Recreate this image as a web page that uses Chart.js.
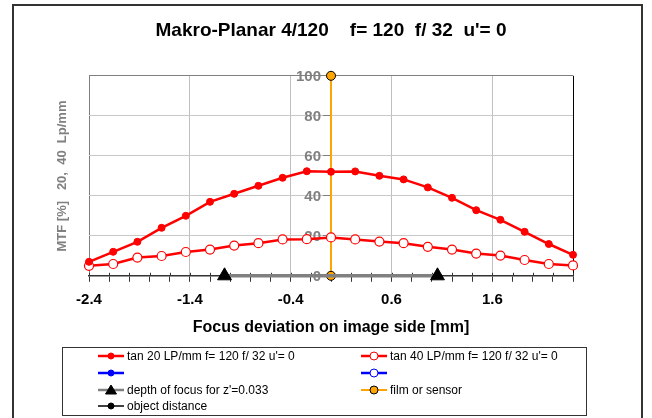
<!DOCTYPE html>
<html>
<head>
<meta charset="utf-8">
<script src="https://cdn.jsdelivr.net/npm/chart.js@4/dist/chart.umd.min.js"></script>
<style>
html,body{margin:0;padding:0;background:#fff;}
#wrap{position:relative;width:652px;height:418px;}
</style>
</head>
<body>
<div id="wrap"><canvas id="c" width="652" height="418"></canvas></div>
<script>
// ---- data ----
const chartTitle = "Makro-Planar 4/120    f= 120  f/ 32  u'= 0";
const xTitle = "Focus deviation on image side [mm]";
const yTitle = "MTF [%]   20,  40  Lp/mm";
const focusX = [-2.4, -2.16, -1.92, -1.68, -1.44, -1.2, -0.96, -0.72, -0.48, -0.24, 0, 0.24, 0.48, 0.72, 0.96, 1.2, 1.44, 1.68, 1.92, 2.16, 2.4];
const tan20 = [7, 12, 17, 24, 30, 37, 41, 45, 49, 52.3, 52, 52.2, 50, 48.2, 44.2, 39, 32.8, 28, 22, 15.9, 10.5];
const tan40 = [5, 5.9, 9.1, 9.9, 11.9, 13.1, 15.1, 16.3, 18.2, 18.3, 19.2, 18.2, 17.1, 16.3, 14.5, 13.1, 11.1, 10.1, 7.9, 5.9, 5.2];
const depthX = [-1.056, 1.056];
const depthY = [0, 0];
const filmX = [0, 0];
const filmY = [0, 100];
const xTickValues = [-2.4,-2.2,-2.0,-1.8,-1.6,-1.4,-1.2,-1.0,-0.8,-0.6,-0.4,-0.2,0,0.2,0.4,0.6,0.8,1.0,1.2,1.4,1.6,1.8,2.0,2.2,2.4];
const xTickLabels = ["-2.4","","","","","-1.4","","","","","-0.4","","","","","0.6","","","","","1.6","","","",""];
const yTickValues = [0, 20, 40, 60, 80, 100];
const yTickLabels = ["0", "20", "40", "60", "80", "100"];
const legendLabels = ["tan 20 LP/mm f= 120 f/ 32 u'= 0", "tan 40 LP/mm f= 120 f/ 32 u'= 0", "", "", "depth of focus for z'=0.033", "film or sensor", "object distance"];

const pts = (xs, ys) => xs.map((x, i) => ({x: x, y: ys[i]}));
const FONT = "'Liberation Sans', Arial, sans-serif";

const datasets = [
  {label: legendLabels[0], data: pts(focusX, tan20), borderColor: '#ff0000', backgroundColor: '#ff0000', borderWidth: 2.5, pointRadius: 3.5, pointBorderWidth: 1, pointBorderColor: '#ff0000', pointBackgroundColor: '#ff0000', pointStyle: 'circle'},
  {label: legendLabels[1], data: pts(focusX, tan40), borderColor: '#ff0000', backgroundColor: '#ffffff', borderWidth: 2.5, pointRadius: 4.5, pointBorderWidth: 1.2, pointBorderColor: '#ff0000', pointBackgroundColor: '#ffffff', pointStyle: 'circle'},
  {label: legendLabels[2], data: [], borderColor: '#0000ff', borderWidth: 2.5, pointRadius: 3, pointBackgroundColor: '#0000ff', pointBorderColor: '#0000ff', pointStyle: 'circle'},
  {label: legendLabels[3], data: [], borderColor: '#0000ff', borderWidth: 2.5, pointRadius: 3.5, pointBackgroundColor: '#ffffff', pointBorderColor: '#0000ff', pointStyle: 'circle'},
  {label: legendLabels[4], data: pts(depthX, depthY), borderColor: '#808080', borderWidth: 3.5, pointRadius: 8, pointStyle: 'triangle', pointBackgroundColor: '#000000', pointBorderColor: '#000000', pointBorderWidth: 1},
  {label: legendLabels[5], data: pts(filmX, filmY), borderColor: '#ffa500', borderWidth: 2, pointRadius: 4.5, pointStyle: 'circle', pointBackgroundColor: '#ffa500', pointBorderColor: '#000000', pointBorderWidth: 1},
  {label: legendLabels[6], data: [], borderColor: '#000000', borderWidth: 1.5, pointRadius: 3, pointStyle: 'circle', pointBackgroundColor: '#000000', pointBorderColor: '#000000'}
];
datasets.forEach(d => { d.clip = false; d.tension = 0; d.showLine = true; d.fill = false; });

const isClose = (a, b) => Math.abs(a - b) < 1e-6;
const majorX = [-1.4, -0.4, 0.6, 1.6];

const framePlugin = {
  id: 'frame',
  beforeDraw(chart) {
    const ctx = chart.ctx;
    ctx.save();
    ctx.fillStyle = '#ffffff';
    ctx.fillRect(0, 0, chart.width, chart.height);
    ctx.strokeStyle = '#333333';
    ctx.lineWidth = 2;
    ctx.strokeRect(13, 5, 629, 430);
    ctx.restore();
  },
  beforeDatasetsDraw(chart) {
    const ctx = chart.ctx, xs = chart.scales.x, ys = chart.scales.y;
    const y0 = ys.getPixelForValue(0);
    ctx.save();
    // minor tick marks crossing above the x axis
    ctx.strokeStyle = '#333333';
    ctx.lineWidth = 1;
    xTickValues.forEach(v => {
      const px = Math.round(xs.getPixelForValue(v)) + 0.5;
      ctx.beginPath(); ctx.moveTo(px, y0 - 3); ctx.lineTo(px, y0); ctx.stroke();
    });
    // y tick labels left of the centered axis
    const ax = xs.getPixelForValue(0);
    ctx.fillStyle = '#808080';
    ctx.font = "bold 15px " + FONT;
    ctx.textAlign = 'right';
    ctx.textBaseline = 'middle';
    yTickValues.forEach((v, i) => {
      ctx.fillText(yTickLabels[i], ax - 10, ys.getPixelForValue(v) + 1);
    });
    ctx.restore();
  },
  afterDraw(chart) {
    const ctx = chart.ctx;
    ctx.save();
    // y axis title
    ctx.translate(62, 176);
    ctx.rotate(-Math.PI / 2);
    ctx.fillStyle = '#808080';
    ctx.font = "bold 13px " + FONT;
    ctx.textAlign = 'center';
    ctx.textBaseline = 'middle';
    ctx.fillText(yTitle, 0, 0);
    ctx.restore();

    // legend box
    ctx.save();
    ctx.strokeStyle = '#333333';
    ctx.lineWidth = 1;
    ctx.strokeRect(62.5, 347.5, 524, 68);
    const cols = [98, 361];
    const rows = [356, 373, 390, 406];
    const slots = [[0,0],[1,0],[0,1],[1,1],[0,2],[1,2],[0,3]];
    ctx.font = "12px " + FONT;
    ctx.textBaseline = 'middle';
    ctx.textAlign = 'left';
    chart.data.datasets.forEach((ds, i) => {
      const x0 = cols[slots[i][0]], y = rows[slots[i][1]];
      ctx.strokeStyle = ds.borderColor;
      ctx.lineWidth = Math.min(ds.borderWidth, 2.5);
      ctx.beginPath(); ctx.moveTo(x0, y); ctx.lineTo(x0 + 26, y); ctx.stroke();
      const cx = x0 + 13;
      ctx.fillStyle = ds.pointBackgroundColor;
      ctx.strokeStyle = ds.pointBorderColor;
      ctx.lineWidth = 1;
      ctx.beginPath();
      if (ds.pointStyle === 'triangle') {
        ctx.moveTo(cx, y - 5); ctx.lineTo(cx + 5.5, y + 4); ctx.lineTo(cx - 5.5, y + 4); ctx.closePath();
      } else {
        const r = ds.pointBackgroundColor === '#ffffff' ? 4 : (ds.pointBorderColor === '#000000' && ds.pointBackgroundColor !== '#000000' ? 4 : 3);
        ctx.arc(cx, y, r, 0, Math.PI * 2);
      }
      ctx.fill(); ctx.stroke();
      ctx.fillStyle = '#000000';
      ctx.fillText(ds.label, x0 + 29, y + 0.5);
    });
    ctx.restore();
  }
};

new Chart(document.getElementById('c'), {
  type: 'scatter',
  data: {datasets: datasets},
  plugins: [framePlugin],
  options: {
    responsive: false,
    animation: false,
    devicePixelRatio: 1,
    layout: {padding: {left: 89, right: 79, top: 0, bottom: 81}},
    plugins: {
      legend: {display: false},
      tooltip: {enabled: false},
      title: {display: true, text: chartTitle, color: '#000', font: {family: FONT, size: 19, weight: 'bold'}, padding: {top: 19, bottom: 34}}
    },
    scales: {
      x: {
        type: 'linear', min: -2.4, max: 2.4,
        afterBuildTicks(scale) { scale.ticks = xTickValues.map(v => ({value: v})); },
        ticks: {
          autoSkip: false, maxRotation: 0, padding: 9,
          color: '#000', font: {family: FONT, size: 15, weight: 'bold'},
          callback(value, index) { return xTickLabels[index]; }
        },
        grid: {
          drawOnChartArea: true, tickLength: 6, tickWidth: 1, tickColor: '#333333', lineWidth: 1,
          color(ctx) {
            const v = ctx.tick ? ctx.tick.value : null;
            if (v === null) return 'rgba(0,0,0,0)';
            if (isClose(v, 2.4)) return '#000000';
            if (isClose(v, -2.4)) return '#808080';
            if (majorX.some(m => isClose(m, v))) return '#c0c0c0';
            return 'rgba(0,0,0,0)';
          }
        },
        border: {display: true, color: '#333333', width: 1.5},
        title: {display: true, text: xTitle, color: '#000', font: {family: FONT, size: 16, weight: 'bold'}, padding: {top: 0, bottom: 0}}
      },
      y: {
        type: 'linear', min: 0, max: 100,
        position: {x: 0},
        afterBuildTicks(scale) { scale.ticks = yTickValues.map(v => ({value: v})); },
        ticks: {display: false},
        grid: {
          tickLength: 8, tickColor: '#808080', lineWidth: 1,
          color(ctx) {
            const v = ctx.tick ? ctx.tick.value : null;
            if (v === 100) return '#808080';
            if (v === 0) return 'rgba(0,0,0,0)';
            return '#c8c8c8';
          }
        },
        border: {display: true, color: '#808080', width: 1}
      }
    }
  }
});
</script>
</body>
</html>
